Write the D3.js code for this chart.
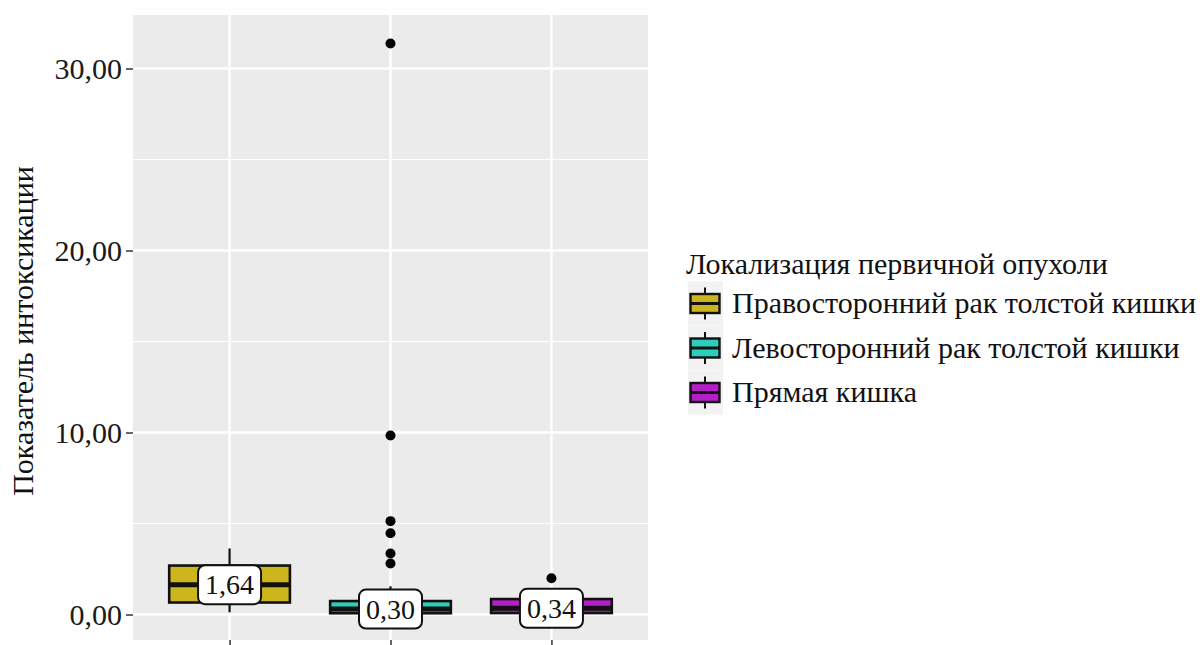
<!DOCTYPE html>
<html>
<head>
<meta charset="utf-8">
<script src="https://cdn.jsdelivr.net/npm/d3@7"></script>
<style>
  html, body { margin: 0; padding: 0; background: #fff; }
  svg { display: block; }
  text { font-family: "Liberation Serif", "Times New Roman", serif; }
</style>
</head>
<body>
<svg id="chart" width="1203" height="645"></svg>
<script>
// Группы по локализации первичной опухоли
const categories = [
  "Правосторонний рак толстой кишки",
  "Левосторонний рак толстой кишки",
  "Прямая кишка"
];
const colors = ["#CDB51D", "#2DCDBB", "#B51FC8"];

// Пятичисловая сводка показателя интоксикации
const medians      = [1.64, 0.30, 0.34];
const q1           = [0.66, 0.07, 0.08];
const q3           = [2.69, 0.74, 0.85];
const whiskerLow   = [0.12, 0.00, 0.00];
const whiskerHigh  = [3.63, 1.55, 1.35];
const outliers     = [[], [31.37, 9.84, 5.13, 4.47, 3.35, 2.80], [1.99]];
const medianLabels = ["1,64", "0,30", "0,34"];

const yTicks      = [0, 10, 20, 30];
const yMinorTicks = [5, 15, 25];
const yTickLabels = ["0,00", "10,00", "20,00", "30,00"];

const yTitle      = "Показатель интоксикации";
const legendTitle = "Локализация первичной опухоли";

const svg = d3.select("#chart");
const panel = { left: 133, right: 648, top: 15, bottom: 640 };

const x = d3.scalePoint()
  .domain(categories)
  .range([panel.left, panel.right])
  .padding(0.6);

const y = d3.scaleLinear()
  .domain([-1.40, 32.94])
  .range([panel.bottom, panel.top]);

const boxW = x.step() * 0.75;

// Панель и сетка
svg.append("rect")
  .attr("x", panel.left).attr("y", panel.top)
  .attr("width", panel.right - panel.left)
  .attr("height", panel.bottom - panel.top)
  .attr("fill", "#EBEBEB");

const grid = svg.append("g");
grid.selectAll("line.minor").data(yMinorTicks).join("line")
  .attr("x1", panel.left).attr("x2", panel.right)
  .attr("y1", d => y(d)).attr("y2", d => y(d))
  .attr("stroke", "#fff").attr("stroke-width", 1.2);
grid.selectAll("line.major").data(yTicks).join("line")
  .attr("x1", panel.left).attr("x2", panel.right)
  .attr("y1", d => y(d)).attr("y2", d => y(d))
  .attr("stroke", "#fff").attr("stroke-width", 2.4);
grid.selectAll("line.vmajor").data(categories).join("line")
  .attr("x1", d => x(d)).attr("x2", d => x(d))
  .attr("y1", panel.top).attr("y2", panel.bottom)
  .attr("stroke", "#fff").attr("stroke-width", 2.4);

// Ось Y
const yAxis = d3.axisLeft(y)
  .tickValues(yTicks)
  .tickFormat((d, i) => yTickLabels[i])
  .tickSize(7)
  .tickPadding(4);
const gy = svg.append("g")
  .attr("transform", `translate(${panel.left},0)`)
  .call(yAxis);
gy.select(".domain").remove();
gy.selectAll(".tick line").attr("stroke", "#333").attr("stroke-width", 1.5);
gy.selectAll(".tick text")
  .attr("fill", "#1a1a1a")
  .style("font-family", "'Liberation Serif', serif")
  .style("font-size", "30px");

// Ось X (только засечки)
const xAxis = d3.axisBottom(x).tickSize(7).tickFormat(() => "");
const gx = svg.append("g")
  .attr("transform", `translate(0,${panel.bottom})`)
  .call(xAxis);
gx.select(".domain").remove();
gx.selectAll(".tick line").attr("stroke", "#333").attr("stroke-width", 1.5);

// Подпись оси Y
svg.append("text")
  .attr("transform", `translate(33,331) rotate(-90)`)
  .attr("text-anchor", "middle")
  .attr("fill", "#111")
  .style("font-size", "30px")
  .text(yTitle);

// Ящики с усами
const boxes = svg.append("g");
categories.forEach((c, i) => {
  const cx = x(c);
  const g = boxes.append("g");
  g.append("line")
    .attr("x1", cx).attr("x2", cx)
    .attr("y1", y(whiskerHigh[i])).attr("y2", y(q3[i]))
    .attr("stroke", "#111").attr("stroke-width", 2.2);
  g.append("line")
    .attr("x1", cx).attr("x2", cx)
    .attr("y1", y(q1[i])).attr("y2", y(whiskerLow[i]))
    .attr("stroke", "#111").attr("stroke-width", 2.2);
  g.append("rect")
    .attr("x", cx - boxW / 2).attr("width", boxW)
    .attr("y", y(q3[i])).attr("height", y(q1[i]) - y(q3[i]))
    .attr("fill", colors[i])
    .attr("stroke", "#111").attr("stroke-width", 2.6);
  g.append("line")
    .attr("x1", cx - boxW / 2).attr("x2", cx + boxW / 2)
    .attr("y1", y(medians[i])).attr("y2", y(medians[i]))
    .attr("stroke", "#111").attr("stroke-width", 5);
  g.selectAll("circle").data(outliers[i]).join("circle")
    .attr("cx", cx).attr("cy", d => y(d)).attr("r", 5)
    .attr("fill", "#000");
});

// Метки медиан
const labels = svg.append("g");
categories.forEach((c, i) => {
  const cx = x(c), cy = y(medians[i]);
  const g = labels.append("g");
  const rect = g.append("rect");
  const t = g.append("text")
    .attr("x", cx).attr("y", cy)
    .attr("text-anchor", "middle")
    .attr("dy", "0.34em")
    .attr("fill", "#111")
    .style("font-size", "28px")
    .text(medianLabels[i]);
  const bb = t.node().getBBox();
  const w = bb.width + 14, h = 39;
  rect.attr("x", cx - w / 2).attr("y", cy - h / 2)
    .attr("width", w).attr("height", h)
    .attr("rx", 7).attr("ry", 7)
    .attr("fill", "#fff").attr("stroke", "#111").attr("stroke-width", 2);
});

// Легенда
const legend = svg.append("g");
legend.append("text")
  .attr("x", 686).attr("y", 274)
  .attr("fill", "#111")
  .style("font-size", "30px")
  .text(legendTitle);

const keyY = d3.scaleLinear().domain([0, 1]).range([303.5, 348]);
categories.forEach((c, i) => {
  const ky = keyY(i);
  const g = legend.append("g");
  g.append("rect")
    .attr("x", 688).attr("y", ky - 22).attr("width", 35).attr("height", 44)
    .attr("fill", "#F2F2F2");
  g.append("line")
    .attr("x1", 705).attr("x2", 705).attr("y1", ky - 16).attr("y2", ky + 16)
    .attr("stroke", "#111").attr("stroke-width", 2);
  g.append("rect")
    .attr("x", 690.5).attr("y", ky - 9.5).attr("width", 29).attr("height", 19)
    .attr("fill", colors[i]).attr("stroke", "#111").attr("stroke-width", 2.4);
  g.append("line")
    .attr("x1", 690.5).attr("x2", 719.5).attr("y1", ky).attr("y2", ky)
    .attr("stroke", "#111").attr("stroke-width", 3);
  g.append("text")
    .attr("x", 732).attr("y", ky).attr("dy", "0.33em")
    .attr("fill", "#111")
    .style("font-size", "30px")
    .text(c);
});
</script>
</body>
</html>
